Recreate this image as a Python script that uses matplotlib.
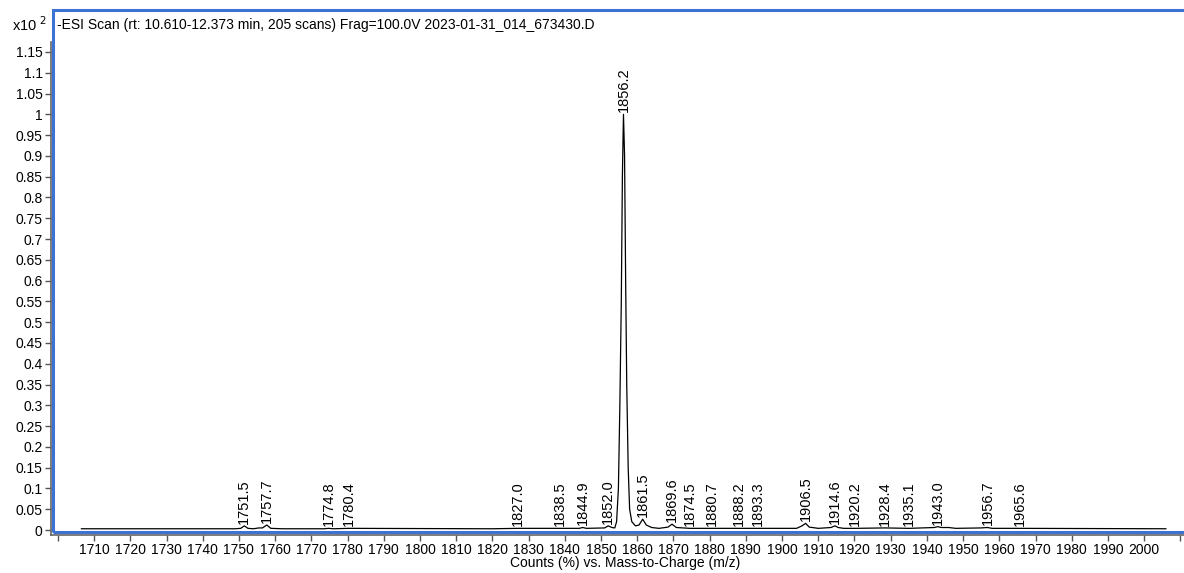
import matplotlib.pyplot as plt
from matplotlib.patches import Rectangle
import numpy as np

plt.rcParams['font.family'] = ['Liberation Sans', 'DejaVu Sans']

#%% Spectrum (m/z, relative counts x10^2)
mz = [1706.5, 1749.0, 1750.5, 1751.5, 1752.5, 1754.0, 1755.5, 1756.5, 1757.7, 1758.8,
      1762.0, 1773.5, 1774.8, 1776.0, 1780.4, 1820.0, 1827.0, 1838.5, 1844.0, 1844.9,
      1846.0, 1851.0, 1852.0, 1853.0, 1853.8, 1854.3, 1854.8, 1855.2, 1855.6, 1855.9,
      1856.2, 1856.5, 1856.8, 1857.1, 1857.5, 1857.9, 1858.5, 1859.5, 1860.5, 1861.5,
      1862.5, 1864.0, 1866.0, 1868.5, 1869.6, 1870.8, 1874.5, 1880.7, 1888.2, 1893.3,
      1904.0, 1905.5, 1906.5, 1907.5, 1910.0, 1913.5, 1914.6, 1915.5, 1917.0, 1920.2,
      1928.4, 1935.1, 1942.0, 1943.0, 1944.0, 1946.0, 1948.0, 1955.0, 1956.7, 1958.0,
      1965.6, 2006.0]
counts = [0.003, 0.003, 0.004, 0.010, 0.004, 0.003, 0.005, 0.005, 0.012, 0.004,
          0.003, 0.003, 0.004, 0.003, 0.004, 0.003, 0.004, 0.004, 0.004, 0.006,
          0.004, 0.005, 0.010, 0.006, 0.005, 0.02, 0.1, 0.3, 0.55, 0.85,
          1.0, 0.9, 0.6, 0.35, 0.15, 0.05, 0.02, 0.01, 0.012, 0.026,
          0.012, 0.006, 0.004, 0.007, 0.014, 0.006, 0.004, 0.004, 0.004, 0.004,
          0.004, 0.010, 0.016, 0.007, 0.004, 0.006, 0.010, 0.006, 0.004, 0.004,
          0.005, 0.004, 0.006, 0.008, 0.006, 0.006, 0.004, 0.005, 0.006, 0.004,
          0.004, 0.003]

peak_mz = [1751.5, 1757.7, 1774.8, 1780.4, 1827.0, 1838.5, 1844.9, 1852.0, 1856.2,
           1861.5, 1869.6, 1874.5, 1880.7, 1888.2, 1893.3, 1906.5, 1914.6, 1920.2,
           1928.4, 1935.1, 1943.0, 1956.7, 1965.6]
peak_h = [0.010, 0.012, 0.004, 0.004, 0.004, 0.004, 0.006, 0.010, 1.0,
          0.026, 0.014, 0.004, 0.004, 0.004, 0.004, 0.016, 0.010, 0.004,
          0.005, 0.004, 0.008, 0.006, 0.004]

xticks = list(range(1700, 2020, 10))
xticklabels = ['' if t in (1700, 2010) else str(t) for t in xticks]
yticks = [round(0.05 * i, 2) for i in range(24)]
yticklabels = ['0', '0.05', '0.1', '0.15', '0.2', '0.25', '0.3', '0.35', '0.4', '0.45',
               '0.5', '0.55', '0.6', '0.65', '0.7', '0.75', '0.8', '0.85', '0.9', '0.95',
               '1', '1.05', '1.1', '1.15']

#%% Plot
W, H = 1184, 573
fig = plt.figure(figsize=(W / 100, H / 100), dpi=100)
ax = fig.add_axes([51 / W, 1 - 535 / H, 1 - 51 / W, (535 - 42) / H])

ax.plot(mz, counts, color='black', lw=0.9)
for x, h in zip(peak_mz, peak_h):
    ax.annotate(f'{x:.1f}', xy=(x, h), xytext=(0, 1.5), textcoords='offset points',
                rotation=90, ha='center', va='bottom', fontsize=10.5)

ax.set_xlim(1698.1, 2011.0)
ax.set_ylim(-0.012, 1.174)
ax.set_xticks(xticks)
ax.set_xticklabels(xticklabels, fontsize=10)
ax.set_yticks(yticks)
ax.set_yticklabels(yticklabels, fontsize=10)
ax.tick_params(axis='both', length=4, width=1, color='#555555', pad=2)

for s in ['top', 'right']:
    ax.spines[s].set_visible(False)
for s in ['left', 'bottom']:
    ax.spines[s].set_color('#666666')
    ax.spines[s].set_linewidth(1.2)

# blue frame around plot area
fig.patches.append(Rectangle((53 / W, 1 - 532 / H), 1.0, (532 - 10) / H,
                             transform=fig.transFigure, fill=False,
                             edgecolor='#3b72d4', lw=2.2))

fig.text(12 / W, 1 - 25 / H, r'x10 $^{2}$', fontsize=10.5, va='center')
fig.text(57 / W, 1 - 25 / H,
         '-ESI Scan (rt: 10.610-12.373 min, 205 scans) Frag=100.0V 2023-01-31_014_673430.D',
         fontsize=10, va='center')
fig.text(625 / W, 1 - 563 / H, 'Counts (%) vs. Mass-to-Charge (m/z)',
         fontsize=10, ha='center', va='center')

fig.savefig('out.png', dpi=100)
